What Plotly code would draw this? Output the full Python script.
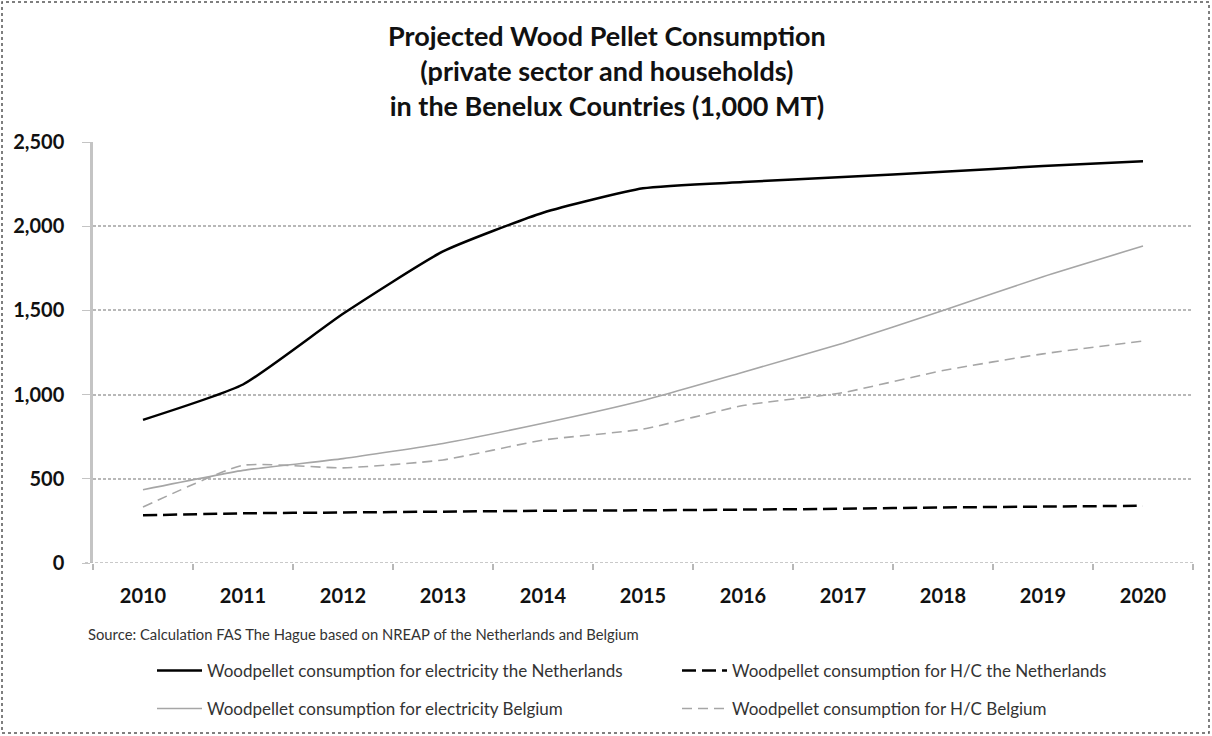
import plotly.graph_objects as go

years = ["2010", "2011", "2012", "2013", "2014", "2015", "2016", "2017", "2018", "2019", "2020"]
nl_elec = [850, 1060, 1480, 1850, 2080, 2225, 2262, 2292, 2323, 2357, 2385]
nl_hc = [283, 295, 300, 305, 310, 313, 317, 322, 330, 335, 340]
be_elec = [435, 550, 620, 710, 830, 965, 1133, 1305, 1500, 1700, 1882]
be_hc = [332, 580, 565, 612, 730, 795, 935, 1012, 1143, 1242, 1318]

names = [
    "Woodpellet consumption for electricity the Netherlands",
    "Woodpellet consumption for H/C the Netherlands",
    "Woodpellet consumption for electricity Belgium",
    "Woodpellet consumption for H/C Belgium",
]
y_ticks = [0, 500, 1000, 1500, 2000, 2500]
y_tick_text = ["0", "500", "1,000", "1,500", "2,000", "2,500"]

W, H = 1212, 736
L, R, T, B = 93, 19, 142, 173
pw, ph = W - L - R, H - T - B
FONT = "Lato, 'Open Sans', sans-serif"

def px(x):
    return (x - L) / pw

def py(y):
    return (H - B - y) / ph

fig = go.Figure()
fig.add_trace(go.Scatter(x=years, y=nl_elec, name=names[0], mode="lines", legend="legend",
                         line=dict(color="#000000", width=2.5, shape="spline", smoothing=0.5)))
fig.add_trace(go.Scatter(x=years, y=nl_hc, name=names[1], mode="lines", legend="legend2",
                         line=dict(color="#000000", width=2.5, dash="14px,6px", shape="spline", smoothing=0.5)))
fig.add_trace(go.Scatter(x=years, y=be_elec, name=names[2], mode="lines", legend="legend3",
                         line=dict(color="#a6a6a6", width=1.6, shape="spline", smoothing=0.5)))
fig.add_trace(go.Scatter(x=years, y=be_hc, name=names[3], mode="lines", legend="legend4",
                         line=dict(color="#a6a6a6", width=1.6, dash="10px,6px", shape="spline", smoothing=0.5)))

leg_common = dict(
    orientation="h", xref="container", yref="container", xanchor="left", yanchor="middle",
    font=dict(size=17, family=FONT, color="#333333"),
    itemwidth=45, bgcolor="rgba(0,0,0,0)", borderwidth=0,
)

fig.update_layout(
    width=W, height=H,
    margin=dict(l=L, r=R, t=T, b=B, autoexpand=False),
    paper_bgcolor="white", plot_bgcolor="white",
    font=dict(family=FONT, color="#000000"),
    xaxis=dict(
        type="category", tickson="boundaries", ticks="outside", ticklen=6,
        tickcolor="#b8b8b8", tickwidth=1.5, showline=False, showgrid=False,
        tickfont=dict(size=20, family=FONT, color="#111111", weight="bold"),
        ticklabelstandoff=19,
        range=[-0.5, 10.5],
    ),
    yaxis=dict(
        range=[0, 2500], tickvals=y_ticks, ticktext=y_tick_text,
        showgrid=True, gridcolor="#b8b8b8", gridwidth=1.5, griddash="3px,2px",
        showline=True, linecolor="#c4c4c4", linewidth=2.5, ticks="outside", ticklen=8,
        tickcolor="#c4c4c4", zeroline=False,
        ticklabelstandoff=14,
        tickfont=dict(size=20, family=FONT, color="#111111", weight="bold"),
    ),
    legend=dict(x=152 / W, y=1 - 671 / H, **leg_common),
    legend2=dict(x=677 / W, y=1 - 671 / H, **leg_common),
    legend3=dict(x=152 / W, y=1 - 709 / H, **leg_common),
    legend4=dict(x=677 / W, y=1 - 709 / H, **leg_common),
    showlegend=True,
)

fig.add_annotation(
    text="<b>Projected Wood Pellet Consumption<br>(private sector and households)<br>in the Benelux Countries (1,000 MT)</b>",
    xref="paper", yref="paper", x=px(607), y=py(70), xanchor="center", yanchor="middle",
    showarrow=False, align="center",
    font=dict(size=27, family=FONT, color="#111111"),
)

fig.add_annotation(
    text="Source: Calculation FAS The Hague based on NREAP of the Netherlands and Belgium",
    xref="paper", yref="paper", x=px(86), y=py(634), xanchor="left", yanchor="middle",
    showarrow=False, font=dict(size=14.8, family=FONT, color="#333333"),
)

# zero baseline
fig.add_shape(type="line", xref="paper", yref="y", x0=-8 / pw, x1=1, y0=0, y1=0,
              line=dict(color="#b8b8b8", width=1.5, dash="3px,2px"))

# dotted frame round the whole chart
fig.add_shape(type="rect", xref="paper", yref="paper",
              x0=px(2), x1=px(W - 3), y0=py(H - 3), y1=py(2),
              line=dict(color="#555555", width=1.5, dash="dot"), layer="below")

fig.write_html("out.html")
